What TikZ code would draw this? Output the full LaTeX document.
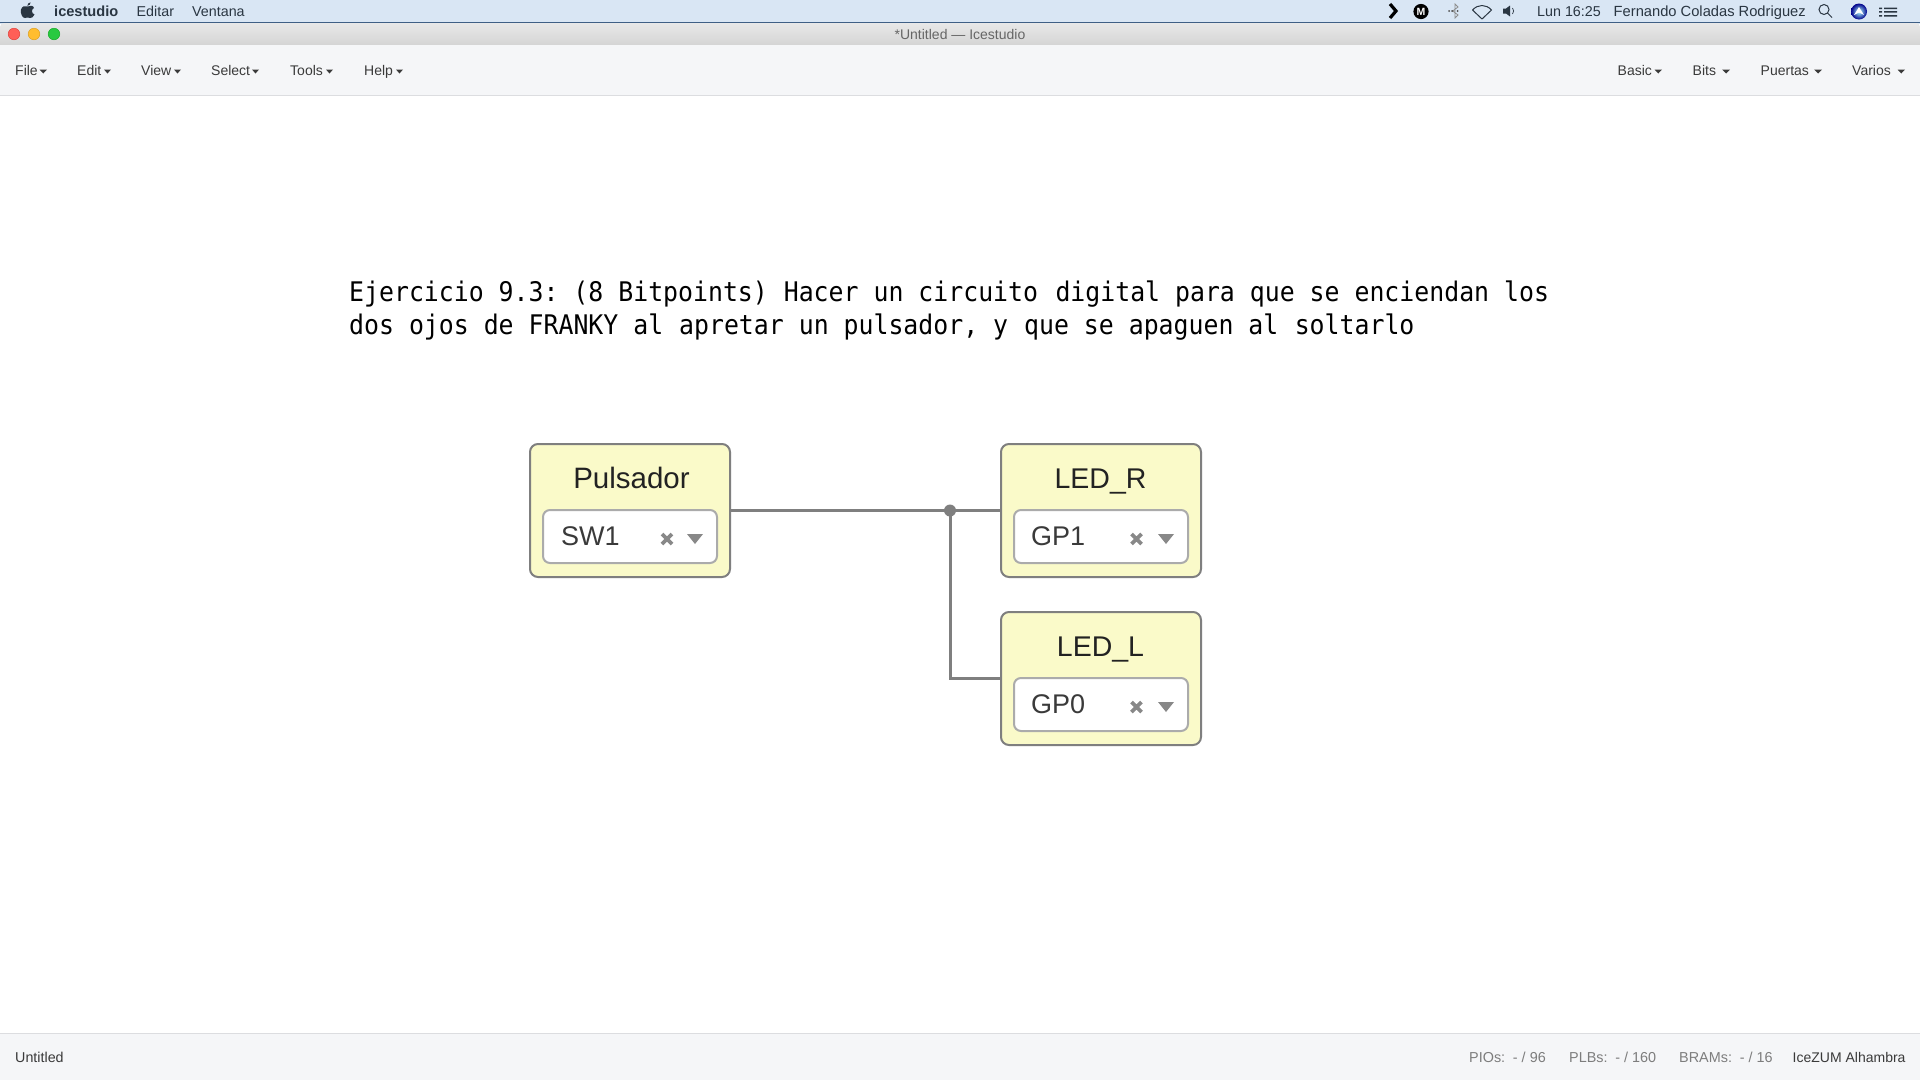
\documentclass[tikz,border=0pt]{standalone}
\usepackage{fontspec}
\setmainfont{Liberation Sans}
\newfontfamily\titlemono[FakeStretch=0.92]{DejaVu Sans Mono}
\usetikzlibrary{calc}
\definecolor{menubg}{HTML}{D9E6F4}
\definecolor{menuline}{HTML}{3F5F85}
\definecolor{menuink}{HTML}{2A3642}
\definecolor{barbg}{HTML}{F5F6F8}
\definecolor{barline}{HTML}{DCDDE0}
\definecolor{ink}{HTML}{3A3A3A}
\definecolor{soft}{HTML}{7D7D7D}
\definecolor{wirec}{HTML}{7F7F7F}
\definecolor{boxfill}{HTML}{FAFAC9}
\definecolor{fieldline}{HTML}{ABABAB}
\definecolor{markc}{HTML}{888888}
\definecolor{dark}{HTML}{222222}
\definecolor{tbtop}{HTML}{E8E8E8}
\definecolor{tbbot}{HTML}{D0D0D0}
\tikzset{
  sysmenu/.style={anchor=base west,inner sep=0pt,text=menuink,font=\fontsize{14.3}{16}\selectfont},
  toolmenu/.style={anchor=base west,inner sep=0pt,text=ink,font=\fontsize{14}{16}\selectfont},
  statustext/.style={anchor=base west,inner sep=0pt,text=soft,font=\fontsize{14.4}{16}\selectfont},
  caretmark/.style={fill=ink,draw=none},
  block/.style={draw=wirec,line width=2pt,fill=boxfill,rounded corners=8pt,minimum width=200pt,minimum height=133pt,inner sep=0pt},
  field/.style={draw=fieldline,line width=2pt,fill=white,rounded corners=7pt,minimum width=174pt,minimum height=53pt,inner sep=0pt},
  blocktitle/.style={anchor=base,inner sep=0pt,text=dark,font=\fontsize{29.5}{32}\selectfont},
  fieldtext/.style={anchor=base west,inner sep=0pt,text=ink,font=\fontsize{27}{30}\selectfont},
  wire/.style={draw=wirec,line width=3pt},
  xmark/.style={draw=markc,line width=3.6pt},
  ddmark/.style={fill=markc,draw=none},
  titleline/.style={anchor=base west,inner sep=0pt,text=black,font=\titlemono\fontsize{27}{33}\selectfont},
}
\begin{document}
\begin{tikzpicture}[x=1pt,y=-1pt]
\useasboundingbox (0,0) rectangle (1920,1080);
\fill[white] (0,0) rectangle (1920,1080);
% macOS menu bar
\fill[menubg] (0,0) rectangle (1920,24);
\shade[top color=tbtop,bottom color=tbbot,rounded corners=4pt] (0,50) -- (0,23) -- (1920,23) -- (1920,50) -- cycle;
\fill[menuline] (0,22) rectangle (1920,23.2);
% apple logo
\fill[menuink] (27.5,6.5) .. controls (30,5) and (33.5,5.5) .. (34,8) .. controls (31,9.5) and (31.5,13.5) .. (34.5,14.5) .. controls (33.5,17) and (31.5,18.5) .. (30,18) .. controls (28.5,17.3) and (26.5,17.3) .. (25,18) .. controls (22.5,18.5) and (20,13) .. (21,9.5) .. controls (22,6) and (25,5.5) .. (27.5,6.5) -- cycle;
\fill[menuink] (27.3,5.8) .. controls (27.3,3.8) and (29,2.5) .. (30.6,2.4) .. controls (30.7,4.2) and (29.2,5.8) .. (27.3,5.8) -- cycle;
\node[sysmenu,font=\fontsize{14.6}{16}\selectfont\bfseries] (appname) at (54,16) {icestudio};
\node[sysmenu] (editar) at (136.5,16) {Editar};
\node[sysmenu] (ventana) at (192,16) {Ventana};
% status icons
\draw[black,line width=3.2pt,line join=miter] (1390,4) -- (1396,11) -- (1390,18);
\fill[black] (1421,11.5) circle (7.6);
\node[inner sep=0pt,text=white,font=\fontsize{10.5}{10}\selectfont\bfseries] (mlogo) at (1421,11.5) {M};
\draw[black!45,line width=.8pt] (1452,10.5) -- (1458,15) -- (1455,18) -- (1455,4) -- (1458,7) -- (1452,11.5);
\fill[black!70] (1449,11) circle (1) (1452,11) circle (1) (1457.5,11) circle (1);
\draw[menuink,line width=1pt,line join=round] (1482,19) -- (1472.5,10) .. controls (1478,4) and (1486,4) .. (1491.5,10) -- cycle;
\fill[menuink] (1503,8.5) -- (1506,8.5) -- (1510,5.5) -- (1510,16.5) -- (1506,13.5) -- (1503,13.5) -- cycle;
\draw[menuink,line width=.7pt] (1512.5,8) .. controls (1514,10) and (1514,12) .. (1512.5,14);
\node[sysmenu] (clock) at (1537,16) {Lun 16:25};
\node[sysmenu,font=\fontsize{14.7}{16}\selectfont] (user) at (1613.5,16) {Fernando Coladas Rodriguez};
\draw[menuink,line width=1pt] (1824,9.5) circle (5) (1827.7,13.2) -- (1832,17.5);
\shade[inner color=white!70!cyan,outer color=blue!55!black] (1859,11.5) circle (8);
\fill[white] (1859,7) -- (1864,15) -- (1859,12.5) -- (1854,15) -- cycle;
\fill[menuink] (1879,7.5) rectangle (1882,9) (1879,11.2) rectangle (1882,12.7) (1879,15) rectangle (1882,16.5);
\fill[menuink] (1884,7.5) rectangle (1897,9) (1884,11.2) rectangle (1897,12.7) (1884,15) rectangle (1897,16.5);
% window title
\foreach \c/\s/\xx in {FF5F57/E0443E/14,FFBD2E/DEA123/34,28C940/1AAB29/54}{
  \definecolor{lightc}{HTML}{\c}\definecolor{lights}{HTML}{\s}
  \filldraw[fill=lightc,draw=lights,line width=.5pt] (\xx,34) circle (5.8);
}
\node[anchor=base,inner sep=0pt,text=black!60,font=\fontsize{14}{15}\selectfont] (wintitle) at (960,39) {*Untitled — Icestudio};
% toolbar
\fill[barbg] (0,45) rectangle (1920,95);
\fill[barline] (0,95) rectangle (1920,96.2);
\node[toolmenu] (file) at (15,75) {File};
\fill[caretmark] (39.5,69.5) -- (47,69.5) -- (43.25,73.5) -- cycle;
\node[toolmenu] (edit) at (77,75) {Edit};
\fill[caretmark] (104,69.5) -- (111,69.5) -- (107.5,73.5) -- cycle;
\node[toolmenu] (view) at (141,75) {View};
\fill[caretmark] (174,69.5) -- (181,69.5) -- (177.5,73.5) -- cycle;
\node[toolmenu] (select) at (211,75) {Select};
\fill[caretmark] (252,69.5) -- (259,69.5) -- (255.5,73.5) -- cycle;
\node[toolmenu] (tools) at (290,75) {Tools};
\fill[caretmark] (326,69.5) -- (333,69.5) -- (329.5,73.5) -- cycle;
\node[toolmenu] (help) at (364,75) {Help};
\fill[caretmark] (396,69.5) -- (403,69.5) -- (399.5,73.5) -- cycle;
\node[toolmenu] (basic) at (1617.5,75) {Basic};
\fill[caretmark] (1654.5,69.5) -- (1662,69.5) -- (1658.25,73.5) -- cycle;
\node[toolmenu] (bits) at (1692.5,75) {Bits};
\fill[caretmark] (1722,69.5) -- (1730,69.5) -- (1726,73.5) -- cycle;
\node[toolmenu] (puertas) at (1760.5,75) {Puertas};
\fill[caretmark] (1814,69.5) -- (1822,69.5) -- (1818,73.5) -- cycle;
\node[toolmenu] (varios) at (1852,75) {Varios};
\fill[caretmark] (1897.5,69.5) -- (1905,69.5) -- (1901.25,73.5) -- cycle;
% status bar
\fill[barbg] (0,1033) rectangle (1920,1080);
\fill[barline] (0,1033) rectangle (1920,1034.2);
\node[toolmenu,font=\fontsize{14.3}{16}\selectfont] (stname) at (15,1062) {Untitled};
\node[statustext] (pios) at (1469,1062) {PIOs:\, - / 96};
\node[statustext] (plbs) at (1569,1062) {PLBs:\, - / 160};
\node[statustext] (brams) at (1679,1062) {BRAMs:\, - / 16};
\node[toolmenu] (board) at (1792.5,1062) {IceZUM Alhambra};
% exercise text
\node[titleline] (line1) at (349,301) {Ejercicio 9.3:\hspace{-5pt} (8 Bitpoints)\hspace{1pt} Hacer un circuito\hspace{2.5pt} digital para que se enciendan los};
\node[titleline] (line2) at (349,334) {dos ojos de FRANKY al\hspace{1pt} apretar un pulsador, y\hspace{1pt} que se apaguen al\hspace{1.5pt} soltarlo};
% circuit blocks
\node[block] (pulsador) at (630,510.5) {};
\node[block] (ledr) at (1101,510.5) {};
\node[block] (ledl) at (1101,678.5) {};
\coordinate (junction) at (950,510.5);
\draw[wire] (pulsador.east) -- (ledr.west);
\draw[wire,line join=miter] (junction) |- (ledl.west);
\fill[wirec] (junction) circle (6);
\node[field] (fsw) at (630,536.5) {};
\node[field] (fr) at (1101,536.5) {};
\node[field] (fl) at (1101,704.5) {};
\node[blocktitle] (tp) at (631.5,488) {Pulsador};
\node[blocktitle,font=\fontsize{28.5}{32}\selectfont] (tr) at (1100.5,488) {LED\_R};
\node[blocktitle,font=\fontsize{28.5}{32}\selectfont] (tl) at (1100.5,656) {LED\_L};
\node[fieldtext] (sw) at (561,545) {SW1};
\node[fieldtext] (gp1) at (1031,545) {GP1};
\node[fieldtext] (gp0) at (1031,713) {GP0};
\foreach \xx/\yy in {667/539,1136.5/539,1136.5/707}{
  \draw[xmark] (\xx-5,\yy-5) -- (\xx+5,\yy+5) (\xx-5,\yy+5) -- (\xx+5,\yy-5);
}
\foreach \xx/\yy in {687/534,1158/534,1158/702}{
  \fill[ddmark] (\xx,\yy) -- (\xx+16,\yy) -- (\xx+8,\yy+10) -- cycle;
}
\end{tikzpicture}
\end{document}
